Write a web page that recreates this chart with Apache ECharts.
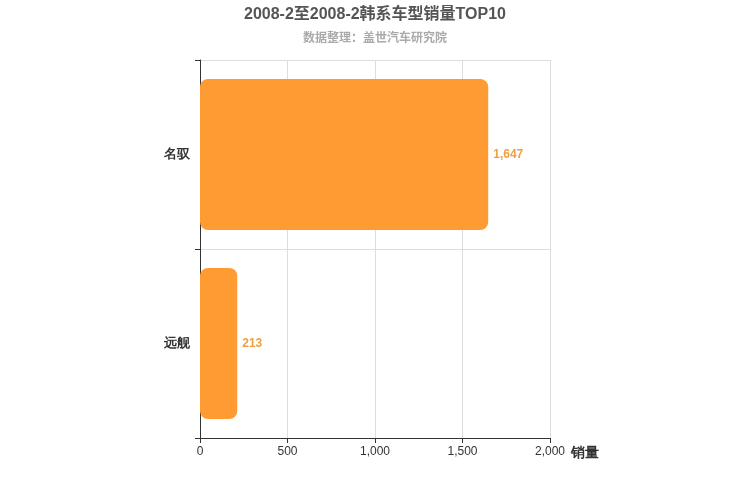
<!DOCTYPE html>
<html><head><meta charset="utf-8">
<script src="https://cdn.jsdelivr.net/npm/echarts@6/dist/echarts.min.js"></script>
<style>html,body{margin:0;padding:0;background:#fff}#c{width:750px;height:500px}</style>
</head><body><div id="c"></div>
<script>
const categories = ['名驭', '远舰'];
const sales = [1647, 213];
const xTicks = [0, 500, 1000, 1500, 2000];
const chart = echarts.init(document.getElementById('c'));
chart.setOption({
  animation: false,
  title: {
    text: '2008-2至2008-2韩系车型销量TOP10',
    subtext: '数据整理：盖世汽车研究院',
    left: 'center', top: 2, itemGap: 8,
    textStyle: { fontSize: 16, fontWeight: 'bold', color: '#555', fontFamily: 'Arial, "Noto Sans CJK SC"' },
    subtextStyle: { fontSize: 12, fontWeight: 'bold', color: '#aaa', fontFamily: '"Noto Sans CJK SC"' }
  },
  grid: { left: 200, right: 200, top: 60, bottom: 62 },
  xAxis: {
    type: 'value', min: xTicks[0], max: xTicks[xTicks.length - 1], interval: 500,
    name: '销量', nameLocation: 'end', nameGap: 15,
    nameTextStyle: { fontSize: 14, fontWeight: 'bold', color: '#333', verticalAlign: 'top', padding: [8, 0, 0, 0] },
    axisLine: { show: true, lineStyle: { color: '#333' } },
    axisTick: { show: true },
    axisLabel: { color: '#333', fontSize: 12 },
    splitLine: { show: true, lineStyle: { color: '#ddd' } }
  },
  yAxis: {
    type: 'category', data: categories, inverse: true,
    axisLine: { lineStyle: { color: '#333' } },
    axisTick: { show: true },
    axisLabel: { color: '#333', fontSize: 13, fontWeight: 'bold', margin: 10 },
    splitLine: { show: true, lineStyle: { color: '#ddd' } }
  },
  series: [{
    type: 'bar', data: sales, barWidth: '80%',
    itemStyle: { color: '#FF9B33', borderRadius: 8 },
    label: { show: true, position: 'right', color: '#F0A040', fontWeight: 'bold', fontSize: 12,
      formatter: p => p.value.toLocaleString('en-US') }
  }]
});
</script></body></html>
